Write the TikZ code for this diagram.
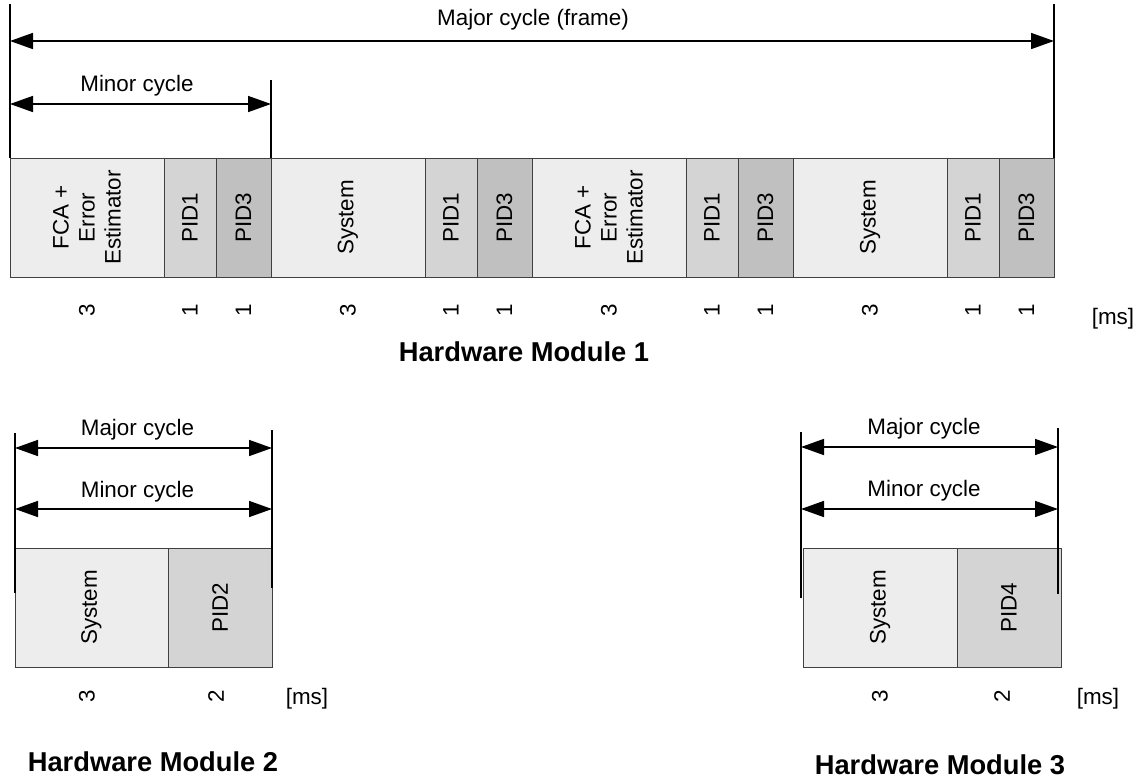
\documentclass[tikz,border=0pt]{standalone}
\usepackage{fontspec}
\setmainfont{Liberation Sans}
\usetikzlibrary{arrows.meta}
\definecolor{cLight}{HTML}{EDEDED}
\definecolor{cMid}{HTML}{D4D4D4}
\definecolor{cDark}{HTML}{C0C0C0}
\definecolor{boxline}{HTML}{404040}
\begin{document}
\begin{tikzpicture}[x=1pt,y=-1pt,
  txt/.style={font=\fontsize{22.4}{26}\selectfont, inner sep=0pt},
  slot/.style={draw=boxline, line width=0.9pt, rotate=90, minimum width=119pt,
    inner sep=0pt, outer sep=0pt, align=center, font=\fontsize{22.4}{26}\selectfont},
  light/.style={slot, fill=cLight},
  mid/.style={slot, fill=cMid},
  dark/.style={slot, fill=cDark},
  num/.style={txt, rotate=90},
  title/.style={font=\bfseries\fontsize{27.3}{30}\selectfont, inner sep=0pt},
  dim/.style={line width=1.6pt, {Triangle[length=23pt,width=16pt]}-{Triangle[length=23pt,width=16pt]}},
  ext/.style={line width=1.4pt}
]
\useasboundingbox (0,0) rectangle (1141,780);

% ---------------- Hardware Module 1 ----------------
\node[light, minimum height=154pt] (a1)  at (87,217.5)    {FCA +\\Error\\Estimator};
\node[mid,   minimum height=52pt]  (a2)  at (190,217.5)   {PID1};
\node[dark,  minimum height=55pt]  (a3)  at (243.5,217.5) {PID3};
\node[light, minimum height=154pt] (a4)  at (348,217.5)   {System};
\node[mid,   minimum height=52pt]  (a5)  at (451,217.5)   {PID1};
\node[dark,  minimum height=55pt]  (a6)  at (504.5,217.5) {PID3};
\node[light, minimum height=154pt] (a7)  at (609,217.5)   {FCA +\\Error\\Estimator};
\node[mid,   minimum height=52pt]  (a8)  at (712,217.5)   {PID1};
\node[dark,  minimum height=55pt]  (a9)  at (765.5,217.5) {PID3};
\node[light, minimum height=154pt] (a10) at (870,217.5)   {System};
\node[mid,   minimum height=52pt]  (a11) at (973,217.5)   {PID1};
\node[dark,  minimum height=55pt]  (a12) at (1026.5,217.5){PID3};

\coordinate (l1t) at (10,4);    \coordinate (l1b) at (10,158);
\coordinate (r1t) at (1054,4);  \coordinate (r1b) at (1054,158);
\coordinate (m1t) at (271,80);  \coordinate (m1b) at (271,158);
\draw[ext] (l1t) -- (l1b);
\draw[ext] (r1t) -- (r1b);
\draw[ext] (m1t) -- (m1b);
\coordinate (maj1L) at (10,41);  \coordinate (maj1R) at (1054,41);
\coordinate (min1L) at (10,104); \coordinate (min1R) at (271,104);
\draw[dim] (maj1L) -- (maj1R);
\draw[dim] (min1L) -- (min1R);
\node[txt] (maj1txt) at (533,20) {Major cycle (frame)};
\node[txt] (min1txt) at (137,86) {Minor cycle};

\node[num] (n1)  at (87,310)   {3};
\node[num] (n2)  at (190,310)  {1};
\node[num] (n3)  at (243.5,310){1};
\node[num] (n4)  at (348,310)  {3};
\node[num] (n5)  at (451,310)  {1};
\node[num] (n6)  at (504.5,310){1};
\node[num] (n7)  at (609,310)  {3};
\node[num] (n8)  at (712,310)  {1};
\node[num] (n9)  at (765.5,310){1};
\node[num] (n10) at (870,310)  {3};
\node[num] (n11) at (973,310)  {1};
\node[num] (n12) at (1026.5,310){1};
\node[txt] (ms1) at (1113,319) {[ms]};
\node[title] (hm1) at (524,352) {Hardware Module 1};

% ---------------- Hardware Module 2 ----------------
\node[light, minimum height=153pt] (b1) at (91.5,607.5) {System};
\node[mid,   minimum height=104pt] (b2) at (220,607.5)  {PID2};
\coordinate (l2t) at (15,433);  \coordinate (l2b) at (15,593);
\coordinate (r2t) at (272,430); \coordinate (r2b) at (272,588);
\draw[ext] (l2t) -- (l2b);
\draw[ext] (r2t) -- (r2b);
\coordinate (maj2L) at (15,448); \coordinate (maj2R) at (272,448);
\coordinate (min2L) at (15,509); \coordinate (min2R) at (272,509);
\draw[dim] (maj2L) -- (maj2R);
\draw[dim] (min2L) -- (min2R);
\node[txt] (maj2txt) at (137.5,430) {Major cycle};
\node[txt] (min2txt) at (137.5,492) {Minor cycle};
\node[num] (p1) at (87,696)  {3};
\node[num] (p2) at (216,696) {2};
\node[txt] (ms2) at (307,699) {[ms]};
\node[title] (hm2) at (153,762) {Hardware Module 2};

% ---------------- Hardware Module 3 ----------------
\node[light, minimum height=154pt] (c1) at (880,607.5)  {System};
\node[mid,   minimum height=104pt] (c2) at (1009,607.5) {PID4};
\coordinate (l3t) at (801,432);  \coordinate (l3b) at (801,598);
\coordinate (r3t) at (1058,428); \coordinate (r3b) at (1058,594);
\draw[ext] (l3t) -- (l3b);
\draw[ext] (r3t) -- (r3b);
\coordinate (maj3L) at (801,447); \coordinate (maj3R) at (1058,447);
\coordinate (min3L) at (801,509); \coordinate (min3R) at (1058,509);
\draw[dim] (maj3L) -- (maj3R);
\draw[dim] (min3L) -- (min3R);
\node[txt] (maj3txt) at (924,429) {Major cycle};
\node[txt] (min3txt) at (924,491) {Minor cycle};
\node[num] (q1) at (880,696)  {3};
\node[num] (q2) at (1002,696) {2};
\node[txt] (ms3) at (1098,699) {[ms]};
\node[title] (hm3) at (940,765) {Hardware Module 3};
\end{tikzpicture}
\end{document}
